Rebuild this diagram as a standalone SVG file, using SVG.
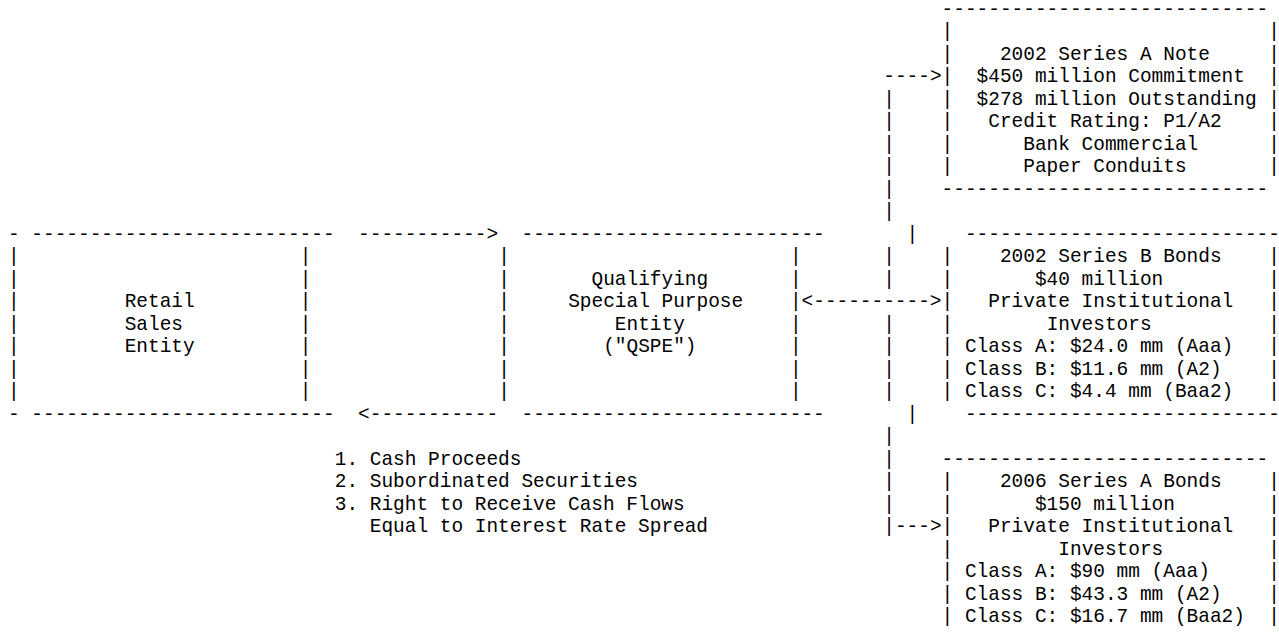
<svg xmlns="http://www.w3.org/2000/svg" width="1279" height="634" viewBox="0 0 1279 634" xml:space="preserve">
<style>
text{font-family:"Liberation Mono","DejaVu Sans Mono",monospace;font-size:19.45px;fill:#000;white-space:pre}
</style>
<rect width="1279" height="634" fill="#fff"/>
<g id="retail-sales-entity">
<text x="8" y="239.5">-</text><text x="31.34" y="239.5">--------------------------</text>
<text x="8" y="262">|</text><text x="299.75" y="262">|</text>
<text x="8" y="284.5">|</text><text x="299.75" y="284.5">|</text>
<text x="8" y="307">|</text><text x="299.75" y="307">|</text>
<text x="8" y="329.5">|</text><text x="299.75" y="329.5">|</text>
<text x="8" y="352">|</text><text x="299.75" y="352">|</text>
<text x="8" y="374.5">|</text><text x="299.75" y="374.5">|</text>
<text x="8" y="397">|</text><text x="299.75" y="397">|</text>
<text x="124.7" y="307">Retail</text>
<text x="124.7" y="329.5">Sales</text>
<text x="124.7" y="352">Entity</text>
<text x="8" y="419.5">-</text><text x="31.34" y="419.5">--------------------------</text>
</g>
<g id="qspe">
<text x="521.48" y="239.5">--------------------------</text>
<text x="498.14" y="262">|</text><text x="789.89" y="262">|</text>
<text x="498.14" y="284.5">|</text><text x="789.89" y="284.5">|</text>
<text x="498.14" y="307">|</text><text x="789.89" y="307">|</text>
<text x="498.14" y="329.5">|</text><text x="789.89" y="329.5">|</text>
<text x="498.14" y="352">|</text><text x="789.89" y="352">|</text>
<text x="498.14" y="374.5">|</text><text x="789.89" y="374.5">|</text>
<text x="498.14" y="397">|</text><text x="789.89" y="397">|</text>
<text x="591.5" y="284.5">Qualifying</text>
<text x="568.16" y="307">Special Purpose</text>
<text x="614.84" y="329.5">Entity</text>
<text x="603.17" y="352">("QSPE")</text>
<text x="521.48" y="419.5">--------------------------</text>
</g>
<g id="note-2002-series-a">
<text x="941.6" y="14.5">----------------------------</text>
<text x="941.6" y="37">|</text><text x="1268.36" y="37">|</text>
<text x="941.6" y="59.5">|</text><text x="1268.36" y="59.5">|</text>
<text x="941.6" y="82">|</text><text x="1268.36" y="82">|</text>
<text x="941.6" y="104.5">|</text><text x="1268.36" y="104.5">|</text>
<text x="941.6" y="127">|</text><text x="1268.36" y="127">|</text>
<text x="941.6" y="149.5">|</text><text x="1268.36" y="149.5">|</text>
<text x="941.6" y="172">|</text><text x="1268.36" y="172">|</text>
<text x="999.95" y="59.5">2002 Series A Note</text>
<text x="976.61" y="82">$450 million Commitment</text>
<text x="976.61" y="104.5">$278 million Outstanding</text>
<text x="988.28" y="127">Credit Rating: P1/A2</text>
<text x="1023.29" y="149.5">Bank Commercial</text>
<text x="1023.29" y="172">Paper Conduits</text>
<text x="941.6" y="194.5">----------------------------</text>
</g>
<g id="bonds-2002-series-b">
<text x="964.94" y="239.5">---------------------------</text>
<text x="941.6" y="262">|</text><text x="1268.36" y="262">|</text>
<text x="941.6" y="284.5">|</text><text x="1268.36" y="284.5">|</text>
<text x="941.6" y="307">|</text><text x="1268.36" y="307">|</text>
<text x="941.6" y="329.5">|</text><text x="1268.36" y="329.5">|</text>
<text x="941.6" y="352">|</text><text x="1268.36" y="352">|</text>
<text x="941.6" y="374.5">|</text><text x="1268.36" y="374.5">|</text>
<text x="941.6" y="397">|</text><text x="1268.36" y="397">|</text>
<text x="999.95" y="262">2002 Series B Bonds</text>
<text x="1034.96" y="284.5">$40 million</text>
<text x="988.28" y="307">Private Institutional</text>
<text x="1046.63" y="329.5">Investors</text>
<text x="964.94" y="352">Class A: $24.0 mm (Aaa)</text>
<text x="964.94" y="374.5">Class B: $11.6 mm (A2)</text>
<text x="964.94" y="397">Class C: $4.4 mm (Baa2)</text>
<text x="964.94" y="419.5">---------------------------</text>
</g>
<g id="bonds-2006-series-a">
<text x="941.6" y="464.5">----------------------------</text>
<text x="941.6" y="487">|</text><text x="1268.36" y="487">|</text>
<text x="941.6" y="509.5">|</text><text x="1268.36" y="509.5">|</text>
<text x="941.6" y="532">|</text><text x="1268.36" y="532">|</text>
<text x="941.6" y="554.5">|</text><text x="1268.36" y="554.5">|</text>
<text x="941.6" y="577">|</text><text x="1268.36" y="577">|</text>
<text x="941.6" y="599.5">|</text><text x="1268.36" y="599.5">|</text>
<text x="941.6" y="622">|</text><text x="1268.36" y="622">|</text>
<text x="999.95" y="487">2006 Series A Bonds</text>
<text x="1034.96" y="509.5">$150 million</text>
<text x="988.28" y="532">Private Institutional</text>
<text x="1058.3" y="554.5">Investors</text>
<text x="964.94" y="577">Class A: $90 mm (Aaa)</text>
<text x="964.94" y="599.5">Class B: $43.3 mm (A2)</text>
<text x="964.94" y="622">Class C: $16.7 mm (Baa2)</text>
</g>
<g id="transfer-notes">
<text x="334.76" y="464.5">1. Cash Proceeds</text>
<text x="334.76" y="487">2. Subordinated Securities</text>
<text x="334.76" y="509.5">3. Right to Receive Cash Flows</text>
<text x="369.77" y="532">Equal to Interest Rate Spread</text>
</g>
<g id="connectors">
<text x="358.1" y="239.5">-----------&gt;</text>
<text x="358.1" y="419.5">&lt;-----------</text>
<text x="801.56" y="307">&lt;----------&gt;</text>
<text x="883.25" y="82">----&gt;</text>
<text x="883.25" y="104.5">|</text>
<text x="883.25" y="127">|</text>
<text x="883.25" y="149.5">|</text>
<text x="883.25" y="172">|</text>
<text x="883.25" y="194.5">|</text>
<text x="883.25" y="217">|</text>
<text x="906.59" y="239.5">|</text>
<text x="883.25" y="262">|</text>
<text x="883.25" y="284.5">|</text>
<text x="883.25" y="329.5">|</text>
<text x="883.25" y="352">|</text>
<text x="883.25" y="374.5">|</text>
<text x="883.25" y="397">|</text>
<text x="906.59" y="419.5">|</text>
<text x="883.25" y="442">|</text>
<text x="883.25" y="464.5">|</text>
<text x="883.25" y="487">|</text>
<text x="883.25" y="509.5">|</text>
<text x="883.25" y="532">|---&gt;</text>
</g>
</svg>
